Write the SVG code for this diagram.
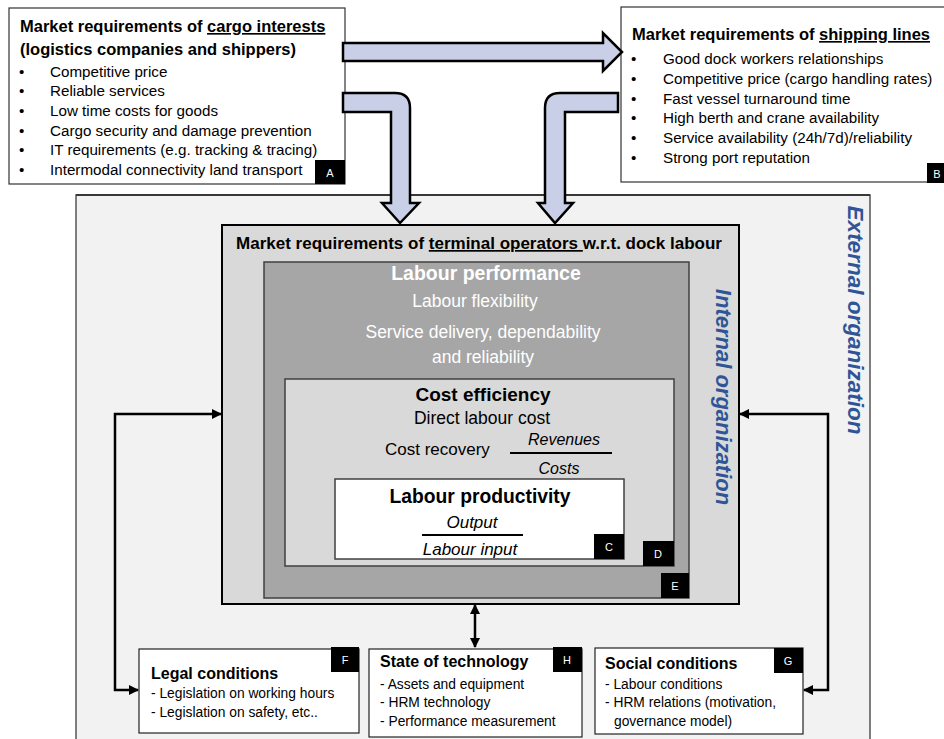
<svg xmlns="http://www.w3.org/2000/svg" width="944" height="739" viewBox="0 0 944 739">
<style>
text{font-family:"Liberation Sans",Arial,sans-serif;fill:#000}
.t{font-weight:bold;font-size:16.5px}
.b{font-size:15.2px}
.s{font-size:13.8px}
.lb{fill:#000}
.lt{fill:#fff;font-size:11px;text-anchor:middle}
.c{text-anchor:middle}
.it{font-style:italic}
.blue{fill:#2f5597;font-weight:bold;font-style:italic;text-anchor:middle;dominant-baseline:central}
.barrow{fill:#c9cfe6;stroke:#000;stroke-width:2.5;stroke-linejoin:miter}
.con{fill:none;stroke:#000;stroke-width:2.5}
</style>
<defs>
<marker id="ah" viewBox="0 0 10 10" refX="9" refY="5" markerWidth="4" markerHeight="4" orient="auto-start-reverse" markerUnits="strokeWidth">
<path d="M0,0 L10,5 L0,10 Z" fill="#000"/>
</marker>
</defs>
<rect width="944" height="739" fill="#fff"/>

<g id="external">
<rect x="76" y="195" width="794" height="560" fill="#f2f2f2" stroke="#555" stroke-width="1.5"/>
<line x1="76" y1="195" x2="870" y2="195" stroke="#222" stroke-width="1.5"/>
<text class="blue" font-size="22.5" transform="translate(855,320) rotate(90)">External organization</text>
</g>

<g id="nodeA">
<rect x="9" y="8" width="336" height="176" fill="#fff" stroke="#333" stroke-width="1.2"/>
<text class="t" x="20" y="32">Market requirements of <tspan text-decoration="underline">cargo interests</tspan></text>
<text class="t" x="20" y="55">(logistics companies and shippers)</text>
<g class="b">
<text x="19" y="77">•</text><text x="50" y="77">Competitive price</text>
<text x="19" y="96">•</text><text x="50" y="96">Reliable services</text>
<text x="19" y="116">•</text><text x="50" y="116">Low time costs for goods</text>
<text x="19" y="136">•</text><text x="50" y="136">Cargo security and damage prevention</text>
<text x="19" y="155">•</text><text x="50" y="155">IT requirements (e.g. tracking &amp; tracing)</text>
<text x="19" y="175">•</text><text x="50" y="175">Intermodal connectivity land transport</text>
</g>
<rect class="lb" x="315" y="160" width="30" height="24"/>
<text class="lt" x="330" y="177">A</text>
</g>

<g id="nodeB">
<rect x="621" y="7" width="330" height="175" fill="#fff" stroke="#333" stroke-width="1.2"/>
<text class="t" x="632" y="40">Market requirements of <tspan text-decoration="underline">shipping lines</tspan></text>
<g class="b">
<text x="631" y="64">•</text><text x="663" y="64">Good dock workers relationships</text>
<text x="631" y="84">•</text><text x="663" y="84">Competitive price (cargo handling rates)</text>
<text x="631" y="104">•</text><text x="663" y="104">Fast vessel turnaround time</text>
<text x="631" y="123">•</text><text x="663" y="123">High berth and crane availability</text>
<text x="631" y="143">•</text><text x="663" y="143">Service availability (24h/7d)/reliability</text>
<text x="631" y="163">•</text><text x="663" y="163">Strong port reputation</text>
</g>
<rect class="lb" x="927" y="163" width="20" height="20"/>
<text class="lt" x="937" y="178">B</text>
</g>

<g id="nodeE">
<rect x="222" y="225" width="517" height="379" fill="#d9d9d9" stroke="#000" stroke-width="2"/>
<text x="479" y="249" class="c" font-weight="bold" font-size="17px">Market requirements of <tspan text-decoration="underline">terminal operators </tspan>w.r.t. dock labour</text>
<text class="blue" font-size="22" transform="translate(723,397) rotate(90)">Internal organization</text>
</g>

<g id="nodeLP">
<rect x="264" y="262" width="425" height="336" fill="#a6a6a6" stroke="#404040" stroke-width="1.5"/>
<text x="486" y="280" class="c" font-weight="bold" font-size="19.5px" style="fill:#fff">Labour performance</text>
<text x="475" y="307" class="c" font-size="17.5px" style="fill:#fff">Labour flexibility</text>
<text x="483" y="338" class="c" font-size="17.5px" style="fill:#fff">Service delivery, dependability</text>
<text x="483" y="363" class="c" font-size="17.5px" style="fill:#fff">and reliability</text>
<rect class="lb" x="661" y="573" width="28" height="25"/>
<text class="lt" x="675" y="590">E</text>
</g>

<g id="nodeCE">
<rect x="285" y="379" width="389" height="187" fill="#d9d9d9" stroke="#404040" stroke-width="1.5"/>
<text x="483" y="401" class="c" font-weight="bold" font-size="19px">Cost efficiency</text>
<text x="482" y="424" class="c" font-size="17.5px">Direct labour cost</text>
<text x="385" y="455" font-size="17px">Cost recovery</text>
<line x1="510" y1="453" x2="612" y2="453" stroke="#000" stroke-width="2"/>
<text x="564" y="445" class="c it" font-size="16px">Revenues</text>
<text x="559" y="474" class="c it" font-size="16px">Costs</text>
<rect class="lb" x="643" y="541" width="31" height="25"/>
<text class="lt" x="658" y="558">D</text>
</g>

<g id="nodeLPr">
<rect x="335" y="479" width="289" height="80" fill="#fff" stroke="#404040" stroke-width="1.5"/>
<text x="480" y="503" class="c" font-weight="bold" font-size="19.3px">Labour productivity</text>
<text x="472" y="528" class="c it" font-size="17px">Output</text>
<line x1="422" y1="535" x2="523" y2="535" stroke="#000" stroke-width="2"/>
<text x="470" y="555" class="c it" font-size="17px">Labour input</text>
<rect class="lb" x="594" y="534" width="30" height="25"/>
<text class="lt" x="609" y="551">C</text>
</g>

<g id="nodeF">
<rect x="139" y="649" width="220" height="84" fill="#fff" stroke="#222" stroke-width="1.2"/>
<text x="151" y="679" font-weight="bold" font-size="16px">Legal conditions</text>
<text class="s" x="151" y="698">- Legislation on working hours</text>
<text class="s" x="151" y="717">- Legislation on safety, etc..</text>
<rect class="lb" x="331" y="647" width="28" height="25"/>
<text class="lt" x="345" y="664">F</text>
</g>

<g id="nodeH">
<rect x="369" y="649" width="213" height="88" fill="#fff" stroke="#222" stroke-width="1.2"/>
<text x="380" y="667" font-weight="bold" font-size="16px">State of technology</text>
<text class="s" x="380" y="689">- Assets and equipment</text>
<text class="s" x="380" y="707">- HRM technology</text>
<text class="s" x="380" y="726">- Performance measurement</text>
<rect class="lb" x="553" y="647" width="29" height="25"/>
<text class="lt" x="567" y="664">H</text>
</g>

<g id="nodeG">
<rect x="595" y="648" width="208" height="86" fill="#fff" stroke="#222" stroke-width="1.2"/>
<text x="605" y="669" font-weight="bold" font-size="16px">Social conditions</text>
<text class="s" x="605" y="689">- Labour conditions</text>
<text class="s" x="605" y="707">- HRM relations (motivation,</text>
<text class="s" x="614" y="726">governance model)</text>
<rect class="lb" x="774" y="648" width="29" height="25"/>
<text class="lt" x="788" y="665">G</text>
</g>

<g id="connectors">
<path class="barrow" d="M343,43 H603 V33 L622,52 L603,71 V61 H343 Z"/>
<path class="barrow" d="M343,93 H395 Q410,93 410,108 V203 H419 L400,223 L382,203 H391 V112 H343 Z"/>
<path class="barrow" d="M618,93 H560 Q545,93 545,108 V203 H538 L555,223 L573,203 H565 V112 H618 Z"/>
<path class="con" d="M138,690 H115 V414 H221" marker-start="url(#ah)" marker-end="url(#ah)"/>
<path class="con" d="M740,414 H828 V690 H804" marker-start="url(#ah)" marker-end="url(#ah)"/>
<path class="con" d="M475,605 V647" marker-start="url(#ah)" marker-end="url(#ah)"/>
</g>
</svg>
